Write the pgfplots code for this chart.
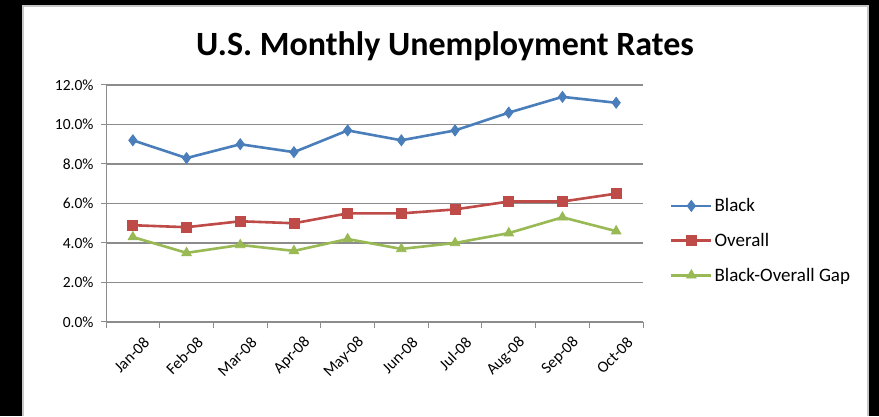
\documentclass[border=0pt]{standalone}
\usepackage{pgfplots}
\pgfplotsset{compat=1.18}
\usepackage{fontspec}
\setmainfont{Carlito}
\definecolor{cBlue}{HTML}{4A7EBB}
\definecolor{cRed}{HTML}{BE4B48}
\definecolor{cGreen}{HTML}{98B954}
\definecolor{cGrid}{HTML}{8C8C8C}
\begin{document}
\begin{tikzpicture}
\fill[black] (0pt,0pt) rectangle (879pt,416pt);
\fill[white] (22pt,0pt) rectangle (869pt,411pt);
\draw[gray!45, line width=2pt] (23pt,0pt) -- (23pt,410pt) -- (868pt,410pt) -- (868pt,0pt);
\node[font=\fontsize{34}{36}\selectfont\bfseries, anchor=base] at (445pt,360pt) {U.S. Monthly Unemployment Rates};
\begin{axis}[
  at={(106pt,94pt)}, anchor=south west,
  scale only axis, width=537pt, height=237pt,
  xmin=-0.5, xmax=9.5, ymin=0, ymax=12,
  axis lines*=left,
  axis line style={-, draw=cGrid, line width=1pt},
  ytick={0,2,...,12},
  yticklabels={0.0\%,2.0\%,4.0\%,6.0\%,8.0\%,10.0\%,12.0\%},
  ymajorgrids,
  grid style={cGrid, line width=1.3pt},
  tick align=outside,
  major tick length=5pt,
  y tick style={cGrid, line width=1pt},
  yticklabel style={font=\fontsize{15.5}{15.5}\selectfont, xshift=-4pt},
  xtick={0,...,9},
  xticklabels={Jan-08,Feb-08,Mar-08,Apr-08,May-08,Jun-08,Jul-08,Aug-08,Sep-08,Oct-08},
  x tick style={draw=none},
  xticklabel style={font=\fontsize{16}{16}\selectfont, rotate=45, anchor=east, xshift=4pt, yshift=-19pt},
  extra x ticks={-0.5,0.5,...,9.5},
  extra x tick labels={},
  extra x tick style={x tick style={draw=cGrid, line width=1pt}, major tick length=6pt},
  legend style={at={(1.05,0.53)}, anchor=north west, draw=none, fill=none,
    font=\fontsize{19}{19}\selectfont, row sep=16pt, inner sep=0pt},
  legend cell align=left,
  legend image code/.code={\draw[mark repeat=2, mark phase=2] plot coordinates {(0pt,0pt)(20pt,0pt)(40pt,0pt)};},
  every axis plot/.append style={line width=2.6pt},
  clip=false,
]
\addplot[cBlue, mark=diamond*, mark size=5.5pt, mark options={line width=0.8pt, fill=cBlue}] coordinates {
 (0,9.2)(1,8.3)(2,9.0)(3,8.6)(4,9.7)(5,9.2)(6,9.7)(7,10.6)(8,11.4)(9,11.1)};
\addlegendentry{Black}
\addplot[cRed, mark=square*, mark size=5pt, mark options={line width=0.8pt, fill=cRed}] coordinates {
 (0,4.9)(1,4.8)(2,5.1)(3,5.0)(4,5.5)(5,5.5)(6,5.7)(7,6.1)(8,6.1)(9,6.5)};
\addlegendentry{Overall}
\addplot[cGreen, mark=triangle*, mark size=5.5pt, mark options={line width=0.8pt, fill=cGreen}] coordinates {
 (0,4.3)(1,3.5)(2,3.9)(3,3.6)(4,4.2)(5,3.7)(6,4.0)(7,4.5)(8,5.3)(9,4.6)};
\addlegendentry{Black-Overall Gap}
\end{axis}
\end{tikzpicture}
\end{document}
